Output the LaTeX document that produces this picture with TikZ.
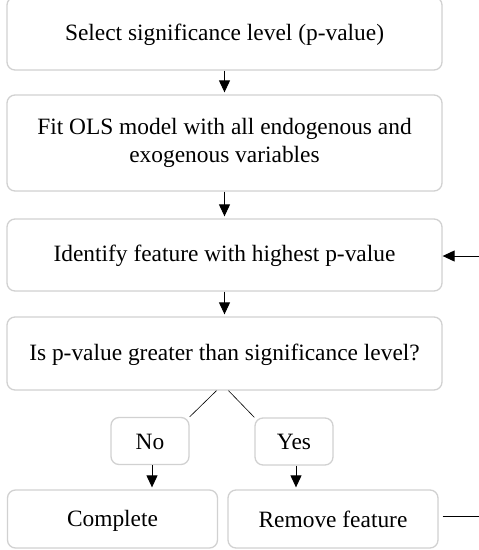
\documentclass[tikz,border=0pt]{standalone}
\usepackage{fontspec}
\setmainfont{Liberation Serif}
\usetikzlibrary{arrows.meta}
\begin{document}
\begin{tikzpicture}[x=1pt, y=-1pt,
        step box/.style={rectangle, rounded corners=8pt, draw=black!18, line width=1.3pt, fill=white, minimum width=435pt, align=center, font=\fontsize{23.4}{28}\selectfont, inner sep=0pt, execute at begin node=\rule[-3pt]{0pt}{22pt}},
        choice/.style={step box, minimum width=78pt, minimum height=47pt},
        result/.style={step box, minimum width=210pt, minimum height=58pt},
        line/.style={draw, line width=1pt, -{Triangle[width=11pt,length=12pt]}, shorten >=2pt}
    ]
        \useasboundingbox (0,0) rectangle (479,550);

        \node[step box, minimum height=73pt] (select) at (224.5, 33.5) {Select significance level (p-value)};
        \node[step box, minimum height=96pt] (fit) at (224.5, 143) {Fit OLS model with all endogenous and\\exogenous variables};
        \node[step box, minimum height=72pt] (identify) at (224.5, 255) {Identify feature with highest p-value};
        \node[step box, minimum height=73pt] (test) at (224.5, 353.5) {Is p-value greater than significance level?};

        % Branches
        \node[choice] (no) at (150, 441) {No};
        \node[choice] (yes) at (294, 441.5) {Yes};
        \node[result] (complete) at (112.5, 519) {Complete};
        \node[result] (remove) at (333, 519) {Remove feature};

        \draw[line] (select) -- (fit);
        \draw[line] (fit) -- (identify);
        \draw[line] (identify) -- (test);

        \draw[line width=0.6pt] ([xshift=-8pt]test.south) -- (no.north east);
        \draw[line width=0.6pt] ([xshift=4pt]test.south) -- (yes.north west);
        \draw[line] ([xshift=2pt]no.south) -- ([xshift=2pt]no.south |- complete.north);
        \draw[line] ([xshift=2pt]yes.south) -- ([xshift=2pt]yes.south |- remove.north);

        % Loop back (runs outside the page)
        \coordinate (loop) at (500, 516);
        \draw[line, shorten >=0pt] ([xshift=4pt, yshift=3pt]remove.east) -- (loop) |- ([yshift=-1pt]identify.east);
\end{tikzpicture}
\end{document}
